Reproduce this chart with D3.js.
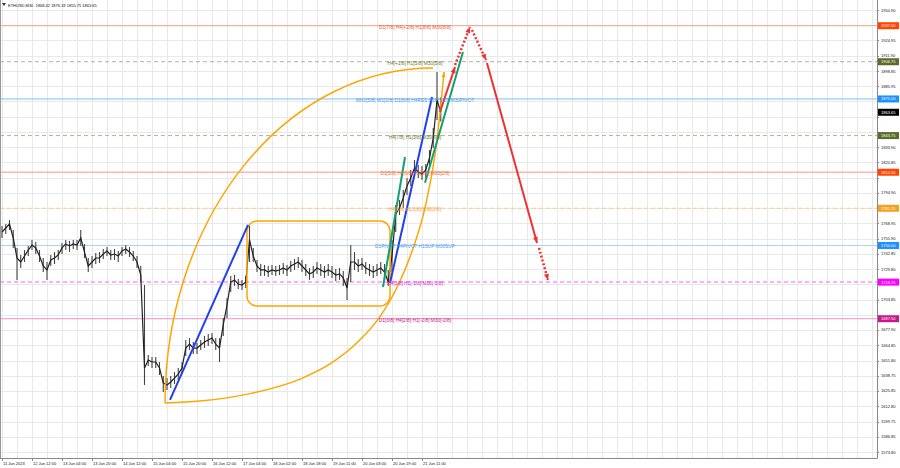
<!DOCTYPE html>
<html><head><meta charset="utf-8">
<script src="https://cdn.jsdelivr.net/npm/d3@7"></script>
<style>html,body{margin:0;padding:0;background:#fff;overflow:hidden}svg{display:block}text{font-family:"Liberation Sans",Arial,sans-serif}</style>
</head><body><svg id="c" width="900" height="468"></svg>
<script>
// ---------------- DATA ----------------
const symbolTitle = "ETHUSD,M30";
const ohlcNow = ["1868.42", "1876.33", "1855.75", "1863.65"];
const timeLabels = ["11 Jun 2023","12 Jun 12:00","13 Jun 04:00","13 Jun 20:00","14 Jun 12:00","15 Jun 04:00","15 Jun 20:00","16 Jun 12:00","17 Jun 04:00","18 Jun 02:00","18 Jun 18:00","19 Jun 11:00","20 Jun 03:00","20 Jun 19:00","21 Jun 11:00"];
const barsPerLabel = 32;
const priceTicks = [1950.90,1937.90,1924.95,1911.90,1898.85,1885.95,1872.90,1859.85,1846.95,1833.90,1820.85,1807.95,1794.90,1781.85,1768.95,1755.90,1742.85,1729.80,1716.90,1703.85,1690.80,1677.90,1664.85,1651.80,1638.75,1625.85,1612.80,1599.75,1586.85,1573.80];
const barStep = 4; // each sample = 4 M30 bars
const closes = [1761.5,1764.9,1768.3,1756.4,1739.3,1735.9,1741.0,1746.1,1750.4,1747.9,1741.0,1732.5,1729.1,1737.6,1739.3,1741.9,1747.9,1751.3,1749.6,1751.3,1750.4,1756.4,1744.4,1732.5,1735.9,1739.3,1739.3,1742.7,1745.3,1741.9,1742.7,1741.0,1745.3,1747.0,1744.4,1741.0,1735.9,1724.8,1645.5,1652.3,1650.6,1650.6,1645.5,1632.7,1631.0,1633.5,1636.9,1640.3,1645.5,1662.5,1665.9,1662.5,1662.5,1665.1,1667.7,1669.4,1671.1,1665.9,1662.5,1682.2,1699.2,1718.8,1720.6,1717.1,1716.3,1718.8,1754.7,1741.0,1732.5,1729.1,1729.1,1727.4,1729.1,1728.2,1729.1,1730.8,1729.1,1732.5,1734.2,1735.9,1732.5,1729.1,1725.7,1727.4,1730.8,1729.1,1727.4,1729.1,1727.4,1724.8,1725.7,1722.3,1713.7,1735.9,1735.9,1732.5,1734.2,1730.8,1729.1,1727.4,1729.1,1730.8,1727.4,1718.8,1741.0,1776.9,1782.0,1790.5,1800.8,1807.6,1816.1,1812.7,1811.0,1814.4,1824.6,1841.7,1874.1,1863.65];
const highs  = [1766.6,1768.3,1771.7,1763.2,1747.8,1741.9,1746.1,1749.5,1754.7,1753.0,1746.1,1739.3,1735.9,1741.9,1744.4,1746.2,1752.2,1754.7,1753.9,1754.7,1754.7,1763.2,1751.2,1739.3,1741.0,1743.6,1744.4,1747.0,1748.7,1746.2,1747.0,1745.3,1748.7,1750.4,1748.7,1745.3,1741.0,1732.5,1716.3,1656.6,1654.9,1654.9,1650.6,1638.7,1637.0,1638.6,1642.0,1645.4,1650.6,1669.3,1671.0,1667.6,1666.8,1669.4,1672.8,1674.5,1675.4,1671.0,1671.0,1688.2,1705.2,1723.9,1724.9,1721.4,1720.6,1723.9,1766.6,1747.8,1737.6,1734.2,1733.4,1732.5,1733.4,1732.5,1733.4,1735.1,1733.4,1736.8,1738.5,1740.2,1737.6,1734.2,1730.8,1732.5,1735.9,1734.2,1732.5,1734.2,1732.5,1729.9,1730.8,1728.3,1722.2,1750.4,1744.4,1738.5,1739.3,1735.9,1734.2,1732.5,1734.2,1735.9,1734.2,1729.0,1754.7,1784.6,1788.8,1797.3,1807.6,1814.4,1822.9,1818.7,1817.8,1819.5,1831.4,1850.2,1898.0,1876.33];
const lows   = [1756.4,1759.8,1763.2,1747.9,1720.5,1730.8,1735.9,1741.0,1746.1,1742.8,1735.9,1727.4,1720.6,1732.5,1734.2,1737.6,1742.8,1746.2,1744.5,1747.0,1746.1,1749.6,1739.3,1727.4,1730.8,1734.2,1735.0,1738.4,1741.0,1737.6,1737.6,1735.9,1741.0,1742.7,1740.1,1736.7,1730.8,1718.8,1631.0,1647.2,1645.5,1645.5,1639.5,1625.0,1626.7,1628.4,1631.8,1635.2,1640.4,1655.7,1660.8,1657.4,1657.4,1660.8,1662.6,1664.3,1666.0,1660.8,1650.6,1672.8,1688.1,1710.3,1715.5,1712.8,1712.0,1713.7,1735.9,1735.9,1727.4,1724.0,1724.0,1723.1,1724.8,1723.9,1724.8,1725.7,1724.0,1727.4,1729.1,1730.8,1727.4,1724.0,1720.6,1722.3,1725.7,1724.0,1722.3,1724.0,1722.3,1719.7,1720.6,1715.5,1703.5,1718.8,1729.1,1727.4,1729.1,1725.7,1724.0,1722.3,1724.0,1725.7,1720.6,1715.4,1727.4,1761.5,1776.0,1782.0,1793.1,1800.8,1809.3,1807.6,1805.9,1807.6,1817.8,1833.2,1857.0,1855.75];
const levelPrices = [1937.50,1906.75,1875.00,1843.75,1812.50,1781.75,1750.00,1718.75,1687.50];
const levelTexts = ["D1[7/8] H4[+2/8] H1[8/8] M30[8/8]","H4[+1/8] H1[5/8] M30[5/8]","MN1[5/8] W1[2/8] D1[6/8] H4RES H1PIVOT M30PIVOT","H4[7/8] H1[3/8] M30[3/8]","D1[5/8] H4[6/8] H1[2/8] M30[2/8]","H4[5/8] H1[1/8] M30[1/8]","D1PIVOT H4PIVOT H1SUP M30SUP","H4[3/8] H1[-1/8] M30[-1/8]","D1[3/8] H4[2/8] H1[-2/8] M30[-2/8]"];
const currentPrice = 1863.65;
// drawn objects in (bar, price)
const blueLines = [[[179.2,1618.2],[262.4,1767.5]],[[413.9,1718.0],[458.7,1876.7]]];
const greenLines = [[[406.4,1714.6],[429.9,1825.5]],[[451.2,1803.5],[491.7,1915.1]]];
const redSolid = [[[467.2,1863.9],[483.2,1902.3]],[[517.3,1905.7],[570.7,1752.1]]];
const redDotted = [[[483.2,1904.0],[499.2,1936.4]],[[501.3,1933.9],[516.3,1908.3]],[[572.8,1747.9],[582.4,1720.6]]];
const rangeBox = {b0:261.3, b1:413.9, p0:1770.9, p1:1698.4};
// upper arc: quarter ellipse from its left/bottom point to its top point
const upperArcStart = [173.9, 1615.6], upperArcEnd = [459.7, 1901.4];
const lowerArc = [[173.9,1615.6],[211.2,1617.3],[264.5,1623.6],[317.9,1636.0],[352.0,1650.0],[380.0,1668.0],[402.0,1688.0],[420.0,1712.0],[436.0,1742.0],[452.0,1785.0],[464.0,1840.0],[471.5,1898.0]];

// ---------------- STYLE ----------------
const plotR = 877, plotB = 458;
const levelStyle = [
 {line:"#f4a08a", dash:null, w:1, text:"#f05a30", box:"#ff4500"},
 {line:"#b0b0a0", dash:"4,3", w:1, text:"#6b7a2a", box:"#5a6b2a"},
 {line:"#7fbff5", dash:null, w:1, text:"#4aa0f0", box:"#1e90ff"},
 {line:"#b0b0a0", dash:"4,3", w:1, text:"#6b7a2a", box:"#5a6b2a"},
 {line:"#f8bcac", dash:null, w:1.5, text:"#f06a40", box:"#ff4500"},
 {line:"#ffc88a", dash:"4,3", w:1, text:"#f7a030", box:"#f7a020"},
 {line:"#a8d2f7", dash:null, w:1, text:"#4aa0f0", box:"#1e90ff"},
 {line:"#ff90ff", dash:"4,3", w:1.5, text:"#e020e0", box:"#ff00ff"},
 {line:"#f490c0", dash:null, w:1, text:"#d0208a", box:"#c8188a"}
];

const svg = d3.select("#c");
const x = d3.scaleLinear().domain([0, barsPerLabel]).range([2, 32]);
const y = d3.scaleLinear().domain([1573.80, 1950.90]).range([452, 10]);

// grid
const gGrid = svg.append("g");
const vBars = d3.range(0, x.invert(plotR), 16);
gGrid.selectAll("line.v").data(vBars).join("line")
  .attr("x1", d => Math.round(x(d)) + 0.5).attr("x2", d => Math.round(x(d)) + 0.5)
  .attr("y1", 0).attr("y2", plotB).attr("stroke", "#e9e9e9").attr("stroke-width", 1);
gGrid.selectAll("line.h").data(priceTicks).join("line")
  .attr("x1", 0).attr("x2", plotR).attr("y1", d => Math.round(y(d)) + 0.5).attr("y2", d => Math.round(y(d)) + 0.5)
  .attr("stroke", "#e9e9e9").attr("stroke-width", 1);

// level lines
const gLev = svg.append("g");
levelPrices.forEach((p, i) => {
  const s = levelStyle[i];
  gLev.append("line").attr("x1", 0).attr("x2", plotR).attr("y1", y(p)).attr("y2", y(p))
    .attr("stroke", s.line).attr("stroke-width", s.w).attr("stroke-dasharray", s.dash);
});

// price bars
const gPrice = svg.append("g");
gPrice.selectAll("line").data(closes).join("line")
  .attr("x1", (d, i) => x(i * barStep)).attr("x2", (d, i) => x(i * barStep))
  .attr("y1", (d, i) => y(highs[i])).attr("y2", (d, i) => y(lows[i]))
  .attr("stroke", "#444").attr("stroke-width", 1.1);
gPrice.append("path").datum(closes)
  .attr("d", d3.line().x((d, i) => x(i * barStep)).y(d => y(d)))
  .attr("fill", "none").attr("stroke", "#222").attr("stroke-width", 1.2);

// orange shapes
const orange = "#ffa500";
svg.append("rect")
  .attr("x", x(rangeBox.b0)).attr("y", y(rangeBox.p0))
  .attr("width", x(rangeBox.b1) - x(rangeBox.b0)).attr("height", y(rangeBox.p1) - y(rangeBox.p0))
  .attr("rx", 10).attr("ry", 10).attr("fill", "none").attr("stroke", orange).attr("stroke-width", 1.5);
{
  const x0 = x(upperArcStart[0]), y0 = y(upperArcStart[1]), x1 = x(upperArcEnd[0]), y1 = y(upperArcEnd[1]);
  const rx = x1 - x0, ry = y0 - y1;
  svg.append("path").attr("d", `M${x0},${y0}A${rx},${ry} 0 0 1 ${x1},${y1}`)
    .attr("fill", "none").attr("stroke", orange).attr("stroke-width", 1.5);
}
const arcLine = d3.line().x(d => x(d[0])).y(d => y(d[1])).curve(d3.curveMonotoneX);
svg.append("path").attr("d", arcLine(lowerArc)).attr("fill", "none").attr("stroke", orange).attr("stroke-width", 1.5);

function arrowHead(g, x0, y0, x1, y1, color, len, wid) {
  const a = Math.atan2(y1 - y0, x1 - x0);
  const p = [[x1, y1],
    [x1 - len * Math.cos(a) + wid * Math.sin(a), y1 - len * Math.sin(a) - wid * Math.cos(a)],
    [x1 - len * Math.cos(a) - wid * Math.sin(a), y1 - len * Math.sin(a) + wid * Math.cos(a)]];
  g.append("path").attr("d", "M" + p.map(q => q.join(",")).join("L") + "Z").attr("fill", color);
}
const la = lowerArc[lowerArc.length - 2], lb = lowerArc[lowerArc.length - 1];
arrowHead(svg, x(la[0]), y(la[1]), x(lb[0]), y(lb[1]), orange, 5, 2);

// trend lines
const gT = svg.append("g");
blueLines.forEach(s => gT.append("line").attr("x1", x(s[0][0])).attr("y1", y(s[0][1])).attr("x2", x(s[1][0])).attr("y2", y(s[1][1]))
  .attr("stroke", "#2240f0").attr("stroke-width", 2));
greenLines.forEach(s => gT.append("line").attr("x1", x(s[0][0])).attr("y1", y(s[0][1])).attr("x2", x(s[1][0])).attr("y2", y(s[1][1]))
  .attr("stroke", "#12a070").attr("stroke-width", 2));
const red = "#f03030";
redSolid.forEach(s => {
  const x0 = x(s[0][0]), y0 = y(s[0][1]), x1 = x(s[1][0]), y1 = y(s[1][1]);
  gT.append("line").attr("x1", x0).attr("y1", y0).attr("x2", x1).attr("y2", y1).attr("stroke", red).attr("stroke-width", 2);
  arrowHead(gT, x0, y0, x1, y1, red, 6, 2.5);
});
redDotted.forEach(s => {
  const x0 = x(s[0][0]), y0 = y(s[0][1]), x1 = x(s[1][0]), y1 = y(s[1][1]);
  gT.append("line").attr("x1", x0).attr("y1", y0).attr("x2", x1).attr("y2", y1).attr("stroke", red).attr("stroke-width", 2.5).attr("stroke-dasharray", "2,2");
  arrowHead(gT, x0, y0, x1, y1, red, 6, 2.5);
});

// level texts
levelPrices.forEach((p, i) => {
  svg.append("text").attr("x", 415).attr("y", y(p) + 3).attr("text-anchor", "middle")
    .attr("font-size", 4.8).attr("fill", levelStyle[i].text).text(levelTexts[i]);
});

// axes frame
svg.append("line").attr("x1", plotR + 0.5).attr("x2", plotR + 0.5).attr("y1", 0).attr("y2", plotB + 0.5).attr("stroke", "#888");
svg.append("line").attr("x1", 0).attr("x2", plotR + 0.5).attr("y1", plotB + 0.5).attr("y2", plotB + 0.5).attr("stroke", "#888");
svg.append("line").attr("x1", 0.5).attr("x2", 0.5).attr("y1", 0).attr("y2", plotB).attr("stroke", "#999");

// right axis (labels hidden behind a price tag are not drawn, as in the terminal)
const tags = levelPrices.map((p, i) => ({p, c: levelStyle[i].box})).concat([{p: currentPrice, c: "#000"}]);
const gY = svg.append("g");
priceTicks.forEach(t => {
  gY.append("line").attr("x1", plotR).attr("x2", plotR + 2).attr("y1", Math.round(y(t)) + 0.5).attr("y2", Math.round(y(t)) + 0.5).attr("stroke", "#888");
  const covered = tags.some(g => Math.abs(y(g.p) - y(t)) < 5.5);
  if (!covered) gY.append("text").attr("x", 881).attr("y", y(t) + 1.5).attr("font-size", 4).attr("fill", "#111").text(t.toFixed(2));
});
tags.forEach(t => {
  gY.append("rect").attr("x", plotR + 1).attr("y", y(t.p) - 3.5).attr("width", 21).attr("height", 7).attr("fill", t.c);
  gY.append("text").attr("x", 881).attr("y", y(t.p) + 1.5).attr("font-size", 4).attr("fill", "#fff").text(t.p.toFixed(2));
});

// bottom axis
const gX = svg.append("g");
timeLabels.forEach((lab, i) => {
  const xx = Math.round(x(i * barsPerLabel)) + 0.5;
  gX.append("line").attr("x1", xx).attr("x2", xx).attr("y1", plotB).attr("y2", plotB + 3).attr("stroke", "#888");
  gX.append("text").attr("x", xx + 0.5).attr("y", 465).attr("font-size", 4).attr("fill", "#111").text(lab);
});

// title
svg.append("path").attr("d", "M2,3L6,3L4,6Z").attr("fill", "#333");
svg.append("text").attr("x", 8).attr("y", 6.5).attr("font-size", 4).attr("fill", "#111")
  .attr("xml:space", "preserve").text(symbolTitle + "  " + ohlcNow.join(" "));
</script></body></html>
